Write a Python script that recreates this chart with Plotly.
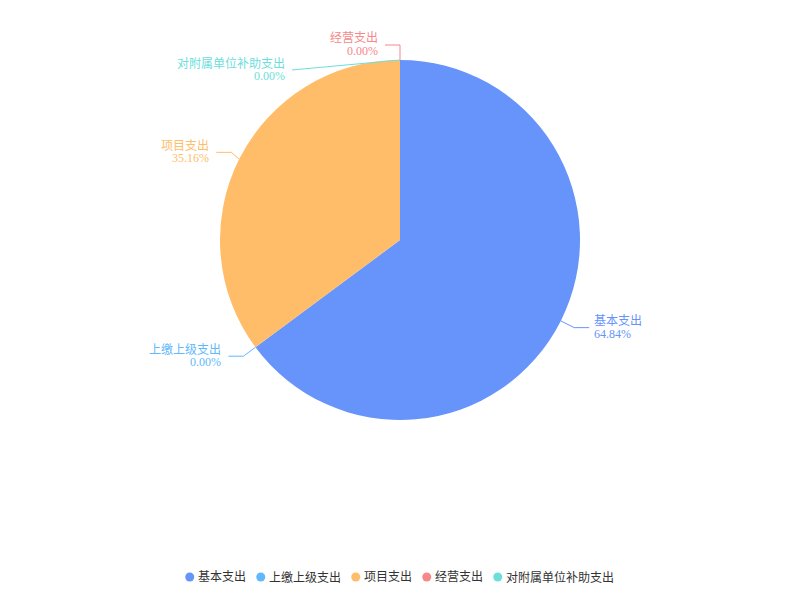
import math
import plotly.graph_objects as go

# ---- data ----
categories = ["基本支出", "上缴上级支出", "项目支出", "经营支出", "对附属单位补助支出"]
values = [64.84, 0.0, 35.16, 0.0, 0.0]
colors = ["#6694FA", "#62B8FC", "#FFBD69", "#F68889", "#6CDEDC"]

# ---- layout constants (window pixel coordinates) ----
W, H = 800, 600
OFF = 8  # page body margin: figure is drawn at (8, 8) in the window
CX, CY, R = 400, 240, 180
LEN1, LEN2 = 15, 15
GAP_RIGHT, GAP_LEFT = 3, 5  # text offset from the leader line end
FONT = "Liberation Serif, Noto Sans CJK SC, serif"
# ECharts-style label layout adjustments (dx, dy in px, straight line?)
label_adjust = {
    "对附属单位补助支出": (-93, 25, True),
    "项目支出": (5.5, 0, False),
}
LEG_Y, LEG_DOT_R, LEG_DOT_GAP, LEG_ITEM_GAP, CHAR_W = 577, 4.5, 9, 14, 12

def px(x):
    return (x - OFF) / W

def py(y):
    return 1 - (y - OFF) / H

fig = go.Figure()
fig.add_trace(go.Pie(
    labels=categories, values=values, sort=False, direction="clockwise",
    rotation=0, marker=dict(colors=colors, line=dict(width=0)),
    textinfo="none", textposition="none", showlegend=False,
    domain=dict(x=[px(CX - R), px(CX + R)], y=[py(CY + R), py(CY - R)]),
    hoverinfo="label+percent",
))

total = sum(values)
cum = 0.0
shapes = []
annotations = []
for name, v, col in zip(categories, values, colors):
    mid = 2 * math.pi * (cum + v / 2) / total
    cum += v
    s, c = math.sin(mid), math.cos(mid)
    ex, ey = CX + R * s, CY - R * c
    bx, by = CX + (R + LEN1) * s, CY - (R + LEN1) * c
    side = 1 if s >= 0 else -1
    if name in label_adjust:
        dx, dy, straight = label_adjust[name]
    else:
        dx, dy, straight = 0, 0, False
    bx, by = bx + dx, by + dy
    endx, endy = bx + side * LEN2, by
    pts = [(ex, ey), (endx, endy)] if straight else [(ex, ey), (bx, by), (endx, endy)]
    path = "M " + " L ".join(f"{px(x):.5f},{py(y):.5f}" for x, y in pts)
    shapes.append(dict(type="path", path=path, xref="paper", yref="paper",
                       line=dict(color=col, width=1)))
    tx = endx + (GAP_RIGHT if side > 0 else -GAP_LEFT)
    pct = f"{v / total * 100:.2f}%"
    anchor = "left" if side > 0 else "right"
    for txt, oy in ((name, -6.5), (pct, 6)):
        annotations.append(dict(
            x=px(tx), y=py(endy + oy), xref="paper", yref="paper",
            text=txt, showarrow=False, xanchor=anchor, yanchor="middle",
            font=dict(family=FONT, size=12, color=col),
        ))

# ---- legend (ECharts style: circle icon + text, centered at bottom) ----
widths = [CHAR_W * len(n) for n in categories]
span = sum(LEG_DOT_GAP + w for w in widths) + LEG_ITEM_GAP * (len(widths) - 1) + LEG_DOT_R
xc = W / 2 - span / 2 + LEG_DOT_R  # first dot center
for name, col, w in zip(categories, colors, widths):
    shapes.append(dict(type="circle", xref="paper", yref="paper",
                       x0=px(xc - LEG_DOT_R), x1=px(xc + LEG_DOT_R),
                       y0=py(LEG_Y + LEG_DOT_R), y1=py(LEG_Y - LEG_DOT_R),
                       fillcolor=col, line=dict(width=0)))
    annotations.append(dict(
        x=px(xc + LEG_DOT_GAP - 3), y=py(LEG_Y), xref="paper", yref="paper",
        text=name, showarrow=False, xanchor="left", yanchor="middle",
        font=dict(family=FONT, size=12, color="#333333"),
    ))
    xc += LEG_DOT_GAP + w + LEG_ITEM_GAP

fig.update_layout(
    width=W, height=H,
    margin=dict(l=0, r=0, t=0, b=0),
    paper_bgcolor="white", plot_bgcolor="white",
    shapes=shapes, annotations=annotations,
    showlegend=False,
    font=dict(family=FONT),
)

fig.write_html("out.html")
